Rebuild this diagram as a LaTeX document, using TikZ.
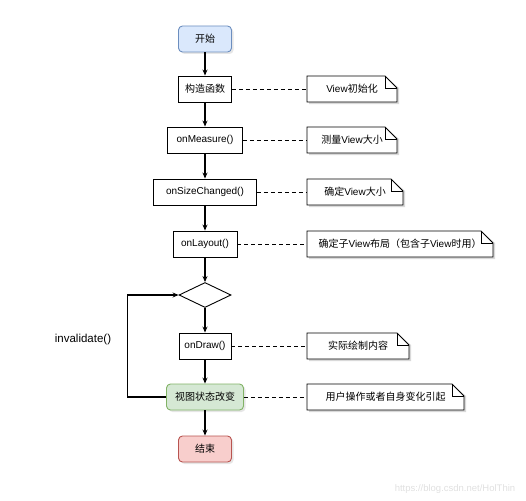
\documentclass[tikz,border=0pt]{standalone}
\usepackage{fontspec}
\setmainfont{Liberation Sans}
\newfontfamily\cjk{Noto Sans CJK SC}
\usetikzlibrary{arrows.meta,shapes.geometric,shadows}
\definecolor{bluefill}{HTML}{DAE8FC}  \definecolor{blueline}{HTML}{6C8EBF}
\definecolor{greenfill}{HTML}{D5E8D4} \definecolor{greenline}{HTML}{82B366}
\definecolor{redfill}{HTML}{F8CECC}   \definecolor{redline}{HTML}{B85450}

\tikzstyle{proc}   = [draw=black, fill=white, line width=0.9pt, minimum height=26pt, inner sep=2pt, font=\fontsize{10}{12}\selectfont]
\tikzstyle{cshade} = [drop shadow={shadow xshift=2pt, shadow yshift=-2pt, opacity=0.2}]
\tikzstyle{cblue}  = [proc, cshade, fill=bluefill,  draw=blueline,  rounded corners=4pt]
\tikzstyle{cgreen} = [proc, cshade, fill=greenfill, draw=greenline, rounded corners=4pt]
\tikzstyle{cred}   = [proc, cshade, fill=redfill,   draw=redline,   rounded corners=4pt]
\tikzstyle{flow}   = [-{Stealth[length=6pt,width=5pt]}, line width=1.1pt]
\tikzstyle{link}   = [dash pattern=on 4pt off 3pt, line width=0.9pt]
% note with folded corner: name, y, width, text
\def\note#1#2#3#4{
  \fill[black, opacity=0.15] (309,#2-11) -- (307+#3-10,#2-11) -- (309+#3,#2-1) -- (309+#3,#2+15) -- (309,#2+15) -- cycle;
  \draw[fill=white, line width=0.9pt] (307,#2-13) -- (307+#3-12,#2-13) -- (307+#3,#2-1) -- (307+#3,#2+13) -- (307,#2+13) -- cycle;
  \draw[line width=0.9pt] (307+#3-12,#2-13) |- (307+#3,#2-1);
  \node[font=\fontsize{10}{12}\selectfont, minimum width=#3pt, minimum height=26pt, inner sep=0pt] (#1) at (307+#3/2,#2) {#4};
}

\begin{document}
\begin{tikzpicture}[x=1pt,y=-1pt]
  \useasboundingbox (0,0) rectangle (526,500);
  % main flow
  \node[cblue, minimum width=53pt]   (start)   at (205,39)  {\cjk 开始};
  \node[proc, minimum width=53pt]    (ctor)    at (205,89)  {\cjk 构造函数};
  \node[proc, minimum width=75pt]    (measure) at (205,140) {onMeasure()};
  \node[proc, minimum width=103pt]   (size)    at (205,192) {onSizeChanged()};
  \node[proc, minimum width=64pt]    (layout)  at (205,244) {onLayout()};
  \node[diamond, draw, line width=0.9pt, aspect=2.08, minimum width=52pt, minimum height=25pt, inner sep=0pt] (dec) at (205,295) {};
  \node[proc, minimum width=52pt]    (ondraw)  at (205,346) {onDraw()};
  \node[cgreen, minimum width=77pt]  (change)  at (205,397) {\cjk 视图状态改变};
  \node[cred, minimum width=53pt]    (stop)    at (205,449) {\cjk 结束};

  \draw[flow] (start) -- (ctor);
  \draw[flow] (ctor) -- (measure);
  \draw[flow] (measure) -- (size);
  \draw[flow] (size) -- (layout);
  \draw[flow] (layout) -- (dec);
  \draw[flow] (dec) -- (ondraw);
  \draw[flow] (ondraw) -- (change);
  \draw[flow] (change) -- (stop);
  \draw[flow] (change.west) -- ++(-39,0) |- (dec.west);
  \node[font=\fontsize{11.5}{13}\selectfont] (inval) at (83,340) {invalidate()};

  % notes
  \note{nctor}{89}{90}{View{\cjk 初始化}}
  \note{nmeasure}{140}{90}{{\cjk 测量}View{\cjk 大小}}
  \note{nsize}{192}{96}{{\cjk 确定}View{\cjk 大小}}
  \note{nlayout}{244}{186}{{\cjk 确定子}View{\cjk 布局（包含子}View{\cjk 时用）}}
  \note{ndraw}{346}{102}{\cjk 实际绘制内容}
  \note{nchange}{397}{157}{\cjk 用户操作或者自身变化引起}

  \draw[link] (ctor) -- (nctor);
  \draw[link] (measure) -- (nmeasure);
  \draw[link] (size) -- (nsize);
  \draw[link] (layout) -- (nlayout);
  \draw[link] (ondraw) -- (ndraw);
  \draw[link] (change) -- (nchange);

  \node[text=black!12, font=\fontsize{9.5}{11}\selectfont] (mark) at (455,489) {https://blog.csdn.net/HolThin};
\end{tikzpicture}
\end{document}
